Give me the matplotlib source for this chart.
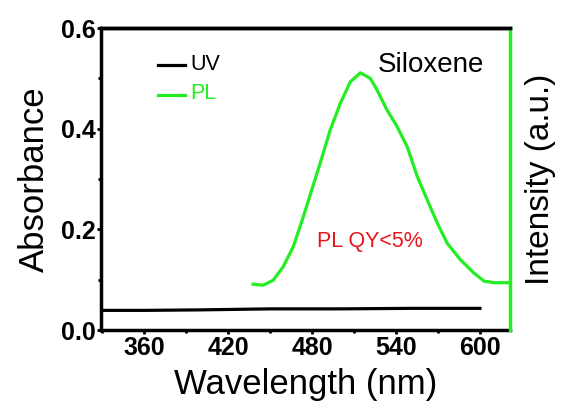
import numpy as np
import matplotlib
matplotlib.use('Agg')
import matplotlib.pyplot as plt
from matplotlib import font_manager as fm
from matplotlib.ticker import MultipleLocator

# pick the regular-width Liberation Sans files (not the Narrow ones)
def lib_font(bold):
    for f in fm.fontManager.ttflist:
        if f.name == 'Liberation Sans' and 'Narrow' not in f.fname:
            if (f.weight in ('bold', 700)) == bold and f.style == 'normal':
                return fm.FontProperties(fname=f.fname)
    return fm.FontProperties(family='DejaVu Sans', weight='bold' if bold else 'normal')

reg = lib_font(False)
bld = lib_font(True)

# UV absorbance (left axis)
uv_wl = [329, 360, 400, 450, 500, 550, 600]
uv_abs = [0.039, 0.039, 0.040, 0.042, 0.042, 0.043, 0.043]

# PL intensity (right axis, drawn on same scale)
pl_wl = [437.8, 445.0, 452.2, 459.4, 466.6, 473.7, 479.7, 485.7, 492.9, 500.1,
         507.3, 514.5, 521.6, 526.4, 533.6, 540.8, 548.0, 555.2, 562.4, 569.6,
         576.7, 586.3, 595.8, 603.0, 610.2, 622.0]
pl_int = [0.091, 0.089, 0.099, 0.126, 0.166, 0.225, 0.278, 0.331, 0.397, 0.450,
          0.493, 0.511, 0.500, 0.477, 0.437, 0.404, 0.364, 0.305, 0.258, 0.212,
          0.172, 0.139, 0.113, 0.097, 0.094, 0.094]

xticks = [360, 420, 480, 540, 600]
yticks = [0.0, 0.2, 0.4, 0.6]

green = '#22ee22'
lw = 2.3

fig = plt.figure(figsize=(5.66, 4.15), dpi=100)
ax = fig.add_axes([0.1784, 0.2048, 0.7226, 0.7277])
ax2 = ax.twinx()

ax.plot(uv_wl, uv_abs, color='black', linewidth=lw, label='UV')
ax2.plot(pl_wl, pl_int, color=green, linewidth=lw, label='PL')

ax.set_xlim(329, 621.5)
ax.set_ylim(0, 0.6)
ax2.set_ylim(0, 0.6)

ax.set_xticks(xticks)
ax.set_yticks(yticks)
ax.set_yticklabels(['%.1f' % v for v in yticks])
ax.xaxis.set_minor_locator(MultipleLocator(30))
ax.yaxis.set_minor_locator(MultipleLocator(0.1))
ax.tick_params(axis='both', which='major', direction='out', length=3, width=2, pad=1)
ax.tick_params(axis='both', which='minor', direction='out', length=2, width=2)
for lab in ax.get_xticklabels() + ax.get_yticklabels():
    lab.set_fontproperties(bld)
    lab.set_fontsize(18)

ax2.set_yticks([])
for s in ['left', 'top', 'bottom']:
    ax.spines[s].set_linewidth(2.5)
ax2.spines['right'].set_color(green)
ax2.spines['right'].set_linewidth(2.5)
ax2.spines['left'].set_visible(False)
ax2.spines['top'].set_linewidth(2.5)
ax2.spines['bottom'].set_visible(False)

ax.set_xlabel('Wavelength (nm)', fontproperties=reg, fontsize=25, labelpad=6)
ax.set_ylabel('Absorbance', fontproperties=reg, fontsize=25, labelpad=7)
ax2.set_ylabel('Intensity (a.u.)', fontproperties=reg, fontsize=24, labelpad=11)

h1, l1 = ax.get_legend_handles_labels()
h2, l2 = ax2.get_legend_handles_labels()
leg = ax2.legend(h1 + h2, l1 + l2, loc='upper left', bbox_to_anchor=(0.11, 0.955),
                 frameon=False, prop=reg, handlelength=1.9, handletextpad=0.4,
                 labelspacing=0.6)
for txt, col in zip(leg.get_texts(), ['black', green]):
    txt.set_color(col)
    txt.set_fontsize(15.5)

ax2.text(526.7, 0.527, 'Siloxene', fontproperties=reg, fontsize=20, va='center', ha='left')
ax2.text(483.6, 0.175, 'PL QY<5%', fontproperties=reg, fontsize=15.5, color='#e8161c',
         va='center', ha='left')

fig.savefig('out.png', dpi=100)
